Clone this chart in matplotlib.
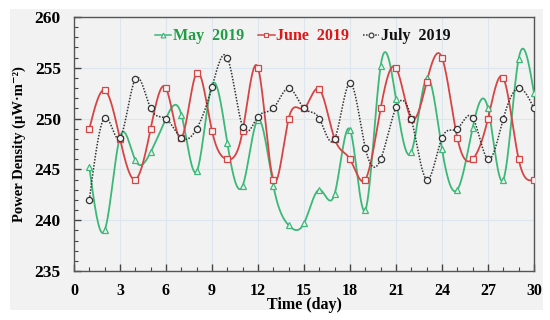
import numpy as np
import matplotlib
matplotlib.use("Agg")
import matplotlib.pyplot as plt
from matplotlib.lines import Line2D
from matplotlib.patches import Rectangle
from matplotlib.ticker import MultipleLocator

days = list(range(1, 31))
may = [245.2, 239.0, 248.2, 245.9, 246.7, 250.0, 250.4, 244.8, 253.3, 247.6,
       243.4, 249.9, 243.4, 239.5, 239.7, 243.0, 242.6, 248.9, 241.0, 255.2,
       251.9, 246.7, 254.0, 247.0, 243.0, 249.1, 251.0, 244.0, 255.9, 252.5]
june = [249.0, 252.8, 248.0, 244.0, 249.0, 253.0, 248.1, 254.5, 248.8, 246.0,
        248.8, 255.0, 244.0, 250.0, 251.0, 252.9, 248.0, 246.0, 244.0, 251.0,
        255.0, 250.0, 253.6, 256.0, 248.1, 246.0, 250.0, 254.0, 246.0, 244.0]
july = [242.0, 250.1, 248.1, 253.9, 251.0, 250.0, 248.1, 249.0, 253.1, 256.0,
        249.2, 250.2, 251.0, 253.0, 251.0, 250.0, 248.0, 253.5, 247.1, 246.0,
        251.1, 250.0, 244.0, 248.1, 249.0, 250.1, 246.0, 250.0, 253.0, 251.0]
labels = ["May  2019", "June  2019", "July  2019"]
xticks = list(range(0, 31, 3))
yticks = list(range(235, 261, 5))


def natural_spline(x, y, n=30):
    x = np.asarray(x, float)
    y = np.asarray(y, float)
    m = len(x)
    h = np.diff(x)
    A = np.zeros((m, m))
    r = np.zeros(m)
    A[0, 0] = 1
    A[-1, -1] = 1
    for i in range(1, m - 1):
        A[i, i - 1] = h[i - 1]
        A[i, i] = 2 * (h[i - 1] + h[i])
        A[i, i + 1] = h[i]
        r[i] = 3 * ((y[i + 1] - y[i]) / h[i] - (y[i] - y[i - 1]) / h[i - 1])
    c = np.linalg.solve(A, r)
    xs, ys = [], []
    for i in range(m - 1):
        b = (y[i + 1] - y[i]) / h[i] - h[i] * (2 * c[i] + c[i + 1]) / 3
        d = (c[i + 1] - c[i]) / (3 * h[i])
        t = np.linspace(0, h[i], n, endpoint=(i == m - 2))
        xs.append(x[i] + t)
        ys.append(y[i] + b * t + c[i] * t ** 2 + d * t ** 3)
    return np.concatenate(xs), np.concatenate(ys)


bg = "#f2f2f2"
serif = ["Liberation Serif", "DejaVu Serif"]
fig = plt.figure(figsize=(5.5, 3.2), dpi=100)
fig.patch.set_facecolor("white")
fig.patches.append(Rectangle((10 / 550, 10 / 320), 533 / 550, 301 / 320,
                             transform=fig.transFigure, facecolor=bg,
                             edgecolor="none", zorder=-10))
ax = fig.add_axes([74 / 550, 49 / 320, 460 / 550, 254 / 320])
ax.set_facecolor(bg)

series = [
    (may, "#3cb878", "^", "-", 1.3, "#1f9e45"),
    (june, "#d64545", "s", "-", 1.3, "#e01515"),
    (july, "#333333", "o", (0, (1.0, 1.0)), 1.1, "#111111"),
]
handles = []
for vals, col, mk, ls, lw, tcol in series:
    sx, sy = natural_spline(days, vals)
    ax.plot(sx, sy, color=col, lw=lw, ls=ls, zorder=3)
    ax.plot(days, vals, ls="none", marker=mk, ms=4.5, mfc=bg, mec=col,
            mew=0.9, zorder=4)
    handles.append(Line2D([], [], color=col, ls=ls, lw=1.1, marker=mk,
                          ms=3.5, mfc=bg, mec=col, mew=0.8))

ax.set_xlim(0, 30)
ax.set_ylim(235, 260)
ax.set_xticks(xticks)
ax.set_yticks(yticks)
ax.xaxis.set_minor_locator(MultipleLocator(1))
ax.yaxis.set_minor_locator(MultipleLocator(1))
ax.tick_params(which="both", direction="in", top=False, right=False,
               color="#444444")
ax.tick_params(which="major", length=5, width=1)
ax.tick_params(which="minor", length=3, width=0.8)
ax.tick_params(axis="y", which="major", pad=9.5)
ax.tick_params(axis="x", which="major", pad=8.5)
for lab in ax.get_yticklabels():
    lab.set_fontfamily("Liberation Serif")
    lab.set_fontweight("bold")
    lab.set_fontsize(12.5)
for lab in ax.get_xticklabels():
    lab.set_fontfamily("Liberation Serif")
    lab.set_fontweight("bold")
    lab.set_fontsize(11.5)
for s in ax.spines.values():
    s.set_color("#555555")
    s.set_linewidth(1.0)
ax.grid(True, which="major", color="#dde5ee", lw=0.8)
ax.set_axisbelow(True)

ax.set_xlabel("Time (day)", fontfamily=serif, fontweight="bold",
              fontsize=11.5, labelpad=-1)
ax.set_ylabel("Power Density (μW·m⁻²)", fontfamily=serif,
              fontweight="bold", fontsize=10.5, labelpad=6)

leg = ax.legend(handles, labels, ncol=3, loc="upper center",
                bbox_to_anchor=(0.497, 1.0), frameon=False, handlelength=1.05,
                handletextpad=0.1, columnspacing=0.85, borderaxespad=0.3,
                prop={"family": "Liberation Serif", "weight": "bold",
                      "size": 11.5})
for txt, s in zip(leg.get_texts(), series):
    txt.set_color(s[5])

fig.savefig("out.png", dpi=100, facecolor="white")
